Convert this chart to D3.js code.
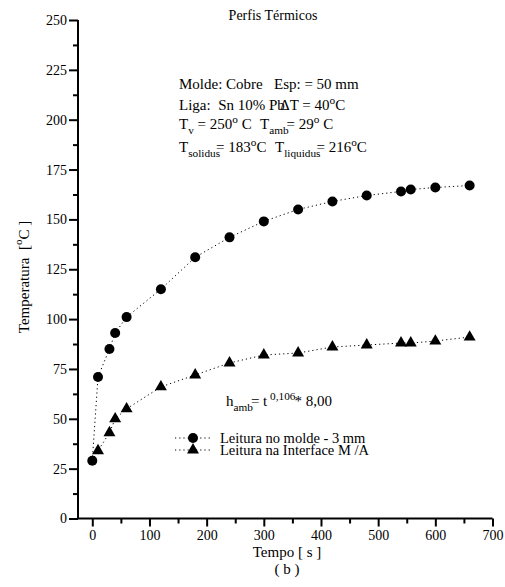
<!DOCTYPE html>
<html lang="pt">
<head>
<meta charset="UTF-8" />
<title>Perfis Térmicos</title>
<script src="https://d3js.org/d3.v7.min.js"></script>
<style>
  body { margin: 0; background: #fff; }
  svg { display: block; font-family: "Liberation Serif", "Times New Roman", serif; }
  text { white-space: pre; fill: #000; }
</style>
</head>
<body>
<svg id="chart"></svg>
<script>
// tempo [s] e temperatura [°C]
const moldeTime = [0, 10, 30, 40, 60, 120, 180, 240, 300, 360, 420, 480, 540, 557, 600, 660];
const moldeTemp = [29, 71, 85, 93, 101, 115, 131, 141, 149, 155, 159, 162, 164, 165, 166, 167];
const interfaceTime = [10, 30, 40, 60, 120, 180, 240, 300, 360, 420, 480, 540, 557, 600, 660];
const interfaceTemp = [34, 43, 50, 55, 66, 72, 78, 82, 83, 86, 87, 88, 88, 89, 91];
const xTicks = [0, 100, 200, 300, 400, 500, 600, 700];
const yTicks = [0, 25, 50, 75, 100, 125, 150, 175, 200, 225, 250];
const seriesNames = ["Leitura no molde - 3 mm", "Leitura na Interface M /A"];

const W = 505, H = 587;
const svg = d3.select("#chart").attr("width", W).attr("height", H);

const x = d3.scaleLinear().domain([-25, 700]).range([78, 492.5]);
const y = d3.scaleLinear().domain([0, 250]).range([518.5, 20]);

// eixos
const yAxis = svg.append("g")
  .attr("transform", `translate(${x(-25)},0)`)
  .call(d3.axisLeft(y).tickValues(yTicks).tickSize(9).tickPadding(2));
const yMinor = svg.append("g")
  .attr("transform", `translate(${x(-25)},0)`)
  .call(d3.axisLeft(y).tickValues(yTicks.slice(0, -1).map(v => v + 12.5)).tickSize(5).tickFormat(""));
const xAxis = svg.append("g")
  .attr("transform", `translate(0,${y(0)})`)
  .call(d3.axisBottom(x).tickValues(xTicks).tickSize(8).tickPadding(4));
const xMinor = svg.append("g")
  .attr("transform", `translate(0,${y(0)})`)
  .call(d3.axisBottom(x).tickValues(xTicks.slice(0, -1).map(v => v + 50)).tickSize(5).tickFormat(""));

[yAxis, yMinor, xAxis, xMinor].forEach(g => {
  g.attr("font-family", null).attr("font-size", 14);
  g.selectAll("path.domain").attr("stroke", "#000").attr("stroke-width", 2);
  g.selectAll(".tick line").attr("stroke", "#000").attr("stroke-width", 2);
});
xAxis.select("path.domain").attr("d", `M${x(-25)},0H${x(700)}`);
xMinor.select("path.domain").remove();
yMinor.select("path.domain").remove();
yAxis.select("path.domain").attr("d", `M0,${y(250)}V${y(0)}`);

// séries
const molde = moldeTime.map((t, i) => [t, moldeTemp[i]]);
const inter = interfaceTime.map((t, i) => [t, interfaceTemp[i]]);
const line = d3.line().x(d => x(d[0])).y(d => y(d[1]));

svg.append("path").datum([molde[0]].concat(inter))
  .attr("d", line).attr("fill", "none").attr("stroke", "#000")
  .attr("stroke-width", 1).attr("stroke-dasharray", "1.2,3");
svg.append("path").datum(molde)
  .attr("d", line).attr("fill", "none").attr("stroke", "#000")
  .attr("stroke-width", 1).attr("stroke-dasharray", "1.2,3");

const tri = d3.symbol().type(d3.symbolTriangle).size(62);
svg.selectAll(".tri").data(inter).join("path")
  .attr("class", "tri")
  .attr("d", tri)
  .attr("transform", d => `translate(${x(d[0])},${y(d[1])})`)
  .attr("fill", "#000");
svg.selectAll(".dot").data(molde).join("circle")
  .attr("class", "dot")
  .attr("cx", d => x(d[0])).attr("cy", d => y(d[1]))
  .attr("r", 5).attr("fill", "#000");

// textos com sub/sobrescritos
function rich(px, py, parts, size) {
  const t = svg.append("text").attr("x", px).attr("y", py).attr("font-size", size);
  let shift = 0;
  parts.forEach(p => {
    const seg = typeof p === "string" ? { s: p } : p;
    const target = seg.sub ? 5 : seg.sup ? -6 : 0;
    const ts = t.append("tspan").text(seg.s).attr("dy", target - shift);
    if (seg.sub || seg.sup) ts.attr("font-size", size * 0.75);
    if (seg.dx) ts.attr("dx", seg.dx);
    shift = target;
  });
  return t;
}

svg.append("text").attr("x", 273).attr("y", 20).attr("text-anchor", "middle")
  .attr("font-size", 14).text("Perfis Térmicos");

rich(179, 89, ["Molde: Cobre   Esp: = 50 mm"], 15);
rich(179, 110, ["Liga:  Sn 10% Pb"], 15);
rich(280, 110, ["\u0394T = 40", { s: "o", sup: true }, "C"], 15);
rich(179, 129, ["T", { s: "v", sub: true }, " = 250", { s: "o", sup: true }, " C"], 15);
rich(260, 129, ["T", { s: "amb", sub: true }, { s: "= 29", dx: -2 }, { s: "o", sup: true }, " C"], 15);
rich(179, 152, ["T", { s: "solidus", sub: true }, { s: "= 183", dx: -4 }, { s: "o", sup: true }, "C"], 15);
rich(275, 152, ["T", { s: "liquidus", sub: true }, { s: "= 216", dx: -4 }, { s: "o", sup: true }, "C"], 15);

rich(226, 406, ["h", { s: "amb", sub: true }, { s: "= t", dx: -2 }, { s: " 0,106", sup: true }, { s: "* 8,00", dx: -1 }], 15);

// legenda
const legY = [438, 450];
legY.forEach((ly, i) => {
  svg.append("line").attr("x1", 175).attr("x2", 211).attr("y1", ly).attr("y2", ly)
    .attr("stroke", "#000").attr("stroke-dasharray", "1.2,3");
  if (i === 0) {
    svg.append("circle").attr("cx", 193).attr("cy", ly).attr("r", 5).attr("fill", "#000");
  } else {
    svg.append("path").attr("d", tri).attr("transform", `translate(193,${ly})`).attr("fill", "#000");
  }
  svg.append("text").attr("x", 220).attr("y", ly + 4.5).attr("font-size", 14.5).text(seriesNames[i]);
});

// rótulos dos eixos
svg.append("text").attr("x", 287).attr("y", 557).attr("text-anchor", "middle")
  .attr("font-size", 15).text("Tempo [ s ]");
svg.append("text").attr("x", 287).attr("y", 574).attr("text-anchor", "middle")
  .attr("font-size", 15).text("( b )");

const yl = svg.append("text").attr("text-anchor", "middle").attr("font-size", 15)
  .attr("transform", "translate(29,277) rotate(-90)");
yl.append("tspan").text("Temperatura  [");
yl.append("tspan").text("o").attr("font-size", 11).attr("dy", -7);
yl.append("tspan").text("C ]").attr("dy", 7);
</script>
</body>
</html>
